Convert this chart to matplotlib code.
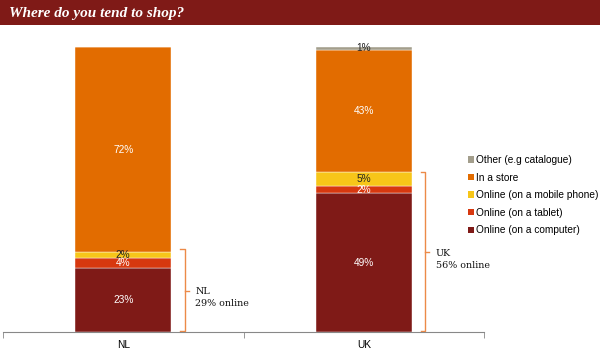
import numpy as np
import matplotlib
matplotlib.use("Agg")
import matplotlib.pyplot as plt
from matplotlib.patches import Rectangle, Patch

# ---- data (share of respondents, %) ----
countries = ["NL", "UK"]
segments = ["Online (on a computer)", "Online (on a tablet)",
            "Online (on a mobile phone)", "In a store", "Other (e.g catalogue)"]
nl_vals = [22.5, 3.5, 2.0, 72.0, 0.0]
uk_vals = [48.6, 2.5, 4.9, 43.0, 1.0]
nl_labels = ["23%", "4%", "2%", "72%", ""]
uk_labels = ["49%", "2%", "5%", "43%", "1%"]
online_share = [29, 56]

colors = ["#7F1A17", "#D7380F", "#F7C619", "#E26C00", "#A39E8C"]
label_colors = ["white", "white", "#222222", "white", "#222222"]
BRACKET = "#EC8A48"
TITLE_BG = "#7F1A17"

fig = plt.figure(figsize=(6.0, 3.52), dpi=100)
fig.patch.set_facecolor("white")

# title bar
fig.add_artist(Rectangle((0, 1 - 25 / 352), 1, 25 / 352, transform=fig.transFigure,
                         fc=TITLE_BG, ec="none"))
fig.text(9 / 600, 1 - 13 / 352, "Where do you tend to shop?", color="white",
         fontsize=11, fontweight="bold", style="italic", family="Liberation Serif",
         va="center", ha="left")

ax = fig.add_axes([3 / 600, 1 - 332 / 352, 481 / 600, 285 / 352])
vals = np.array([nl_vals, uk_vals])
labels = [nl_labels, uk_labels]
x = np.arange(len(countries))
bottom = np.zeros(len(countries))
for j, seg in enumerate(segments):
    ax.bar(x, vals[:, j], 0.4, bottom=bottom, color=colors[j],
           edgecolor="white", linewidth=0.3)
    for i in range(len(countries)):
        if labels[i][j]:
            ax.text(x[i], bottom[i] + vals[i, j] / 2, labels[i][j], ha="center",
                    va="center", fontsize=7.3, color=label_colors[j],
                    family="Liberation Sans")
    bottom += vals[:, j]

# brackets for online share
for i, c in enumerate(countries):
    top = online_share[i]
    bx = x[i] + 0.255
    t = 0.017
    ax.plot([bx - t, bx, bx, bx - t], [top, top, 0.3, 0.3], color=BRACKET,
            lw=1.0, clip_on=False)
    ax.plot([bx, bx + t], [top / 2, top / 2], color=BRACKET, lw=1.0, clip_on=False)
    ax.text(bx + 0.045, top / 2 - 2.5, f"{c}\n{online_share[i]}% online",
            ha="left", va="center", fontsize=6.8, family="DejaVu Serif",
            linespacing=1.4, color="#111111")

ax.set_xlim(-0.5, 1.5)
ax.set_ylim(0, 100)
ax.set_yticks([])
ax.set_xticks(x)
ax.set_xticklabels(countries, fontsize=7.3, family="Liberation Sans")
ax.set_xticks([-0.5, 0.5, 1.5], minor=True)
ax.tick_params(axis="x", which="major", length=0, pad=6)
ax.tick_params(axis="x", which="minor", length=4, color="#888888", direction="out")
for s in ("top", "right", "left"):
    ax.spines[s].set_visible(False)
ax.spines["bottom"].set_color("#888888")

handles = [Patch(fc=colors[j], ec="none", label=segments[j]) for j in range(4, -1, -1)]
fig.legend(handles=handles, loc="upper left", bbox_to_anchor=(468 / 600, 1 - 155 / 352),
           frameon=False, prop={"family": "Liberation Sans", "size": 7.3},
           handlelength=0.6, handleheight=0.6, handletextpad=0.2, labelspacing=0.75,
           borderpad=0, borderaxespad=0)

fig.savefig("out.png", dpi=100)
